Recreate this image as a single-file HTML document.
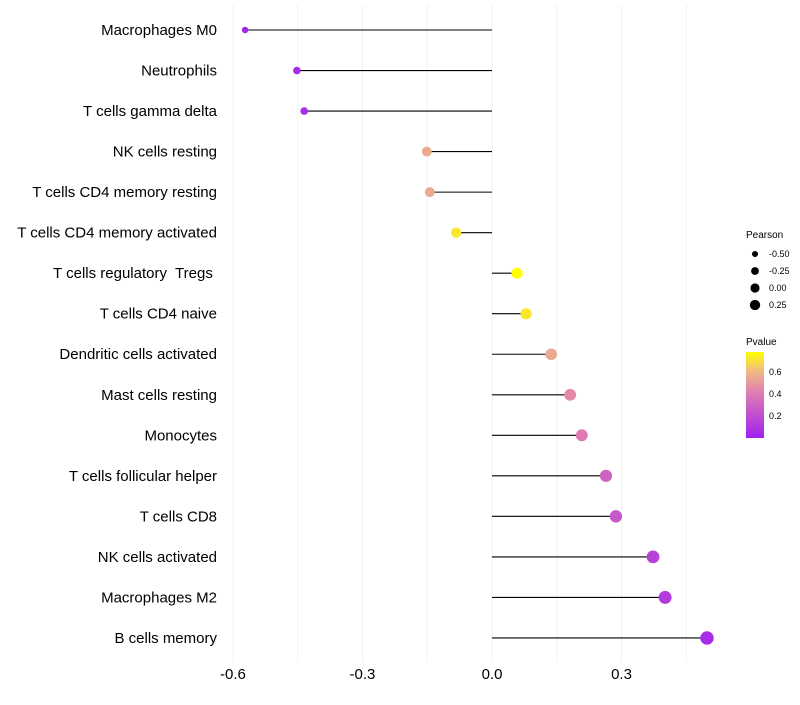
<!DOCTYPE html>
<html><head><meta charset="utf-8"><style>
body{margin:0;background:#fff;font-family:"Liberation Sans",sans-serif}
text{white-space:pre}
</style></head><body>
<svg id="c" width="800" height="700" xmlns="http://www.w3.org/2000/svg">
<defs><linearGradient id="pg" x1="0" y1="1" x2="0" y2="0">
<stop offset="0" stop-color="#a020f0"/><stop offset="0.5" stop-color="#dc78b4"/><stop offset="0.77" stop-color="#f0b886"/><stop offset="1" stop-color="#ffff00"/></linearGradient></defs>
<g id="grid"></g><g id="marks"></g><g id="labels"></g>
<g font-size="9" fill="#000">
<text x="746" y="238" font-size="10">Pearson</text>
<g id="sizeleg"></g>
<text x="746" y="345" font-size="10">Pvalue</text>
<rect x="746" y="352" width="18" height="86" fill="url(#pg)"/>
<text x="769" y="375">0.6</text><text x="769" y="397">0.4</text><text x="769" y="419">0.2</text>
</g>
</svg>
<script>
const categories=["Macrophages M0","Neutrophils","T cells gamma delta","NK cells resting","T cells CD4 memory resting","T cells CD4 memory activated","T cells regulatory  Tregs ","T cells CD4 naive","Dendritic cells activated","Mast cells resting","Monocytes","T cells follicular helper","T cells CD8","NK cells activated","Macrophages M2","B cells memory"];
const pearson=[-0.572,-0.452,-0.435,-0.151,-0.144,-0.083,0.058,0.079,0.137,0.181,0.208,0.264,0.287,0.373,0.401,0.498];
const pvalue=[0.02,0.05,0.06,0.55,0.55,0.72,0.78,0.72,0.55,0.45,0.4,0.3,0.25,0.15,0.12,0.05];
const xticks=[-0.6,-0.3,0.0,0.3];
const tickLabels=["-0.6","-0.3","0.0","0.3"];
const legVals=[-0.5,-0.25,0,0.25];
const legLabels=["-0.50","-0.25","0.00","0.25"];
const NS="http://www.w3.org/2000/svg";
const X=v=>492+v*431.7, Y=i=>30+i*40.53, R=v=>Math.sqrt(Math.max(2.5,25+30*v))+0.4;
function col(p){const t=Math.max(0,Math.min(1,p/0.78));
const st=[[0,[160,32,240]],[0.5,[220,120,180]],[0.77,[240,184,134]],[1,[255,255,0]]];
for(let k=0;k<st.length-1;k++){const[a,ca]=st[k],[b,cb]=st[k+1];if(t<=b){const f=(t-a)/(b-a);return`rgb(${ca.map((c,j)=>Math.round(c+(cb[j]-c)*f)).join(',')})`;}}return'rgb(255,255,0)';}
function el(tag,at,parent,txt){const e=document.createElementNS(NS,tag);for(const k in at)e.setAttribute(k,at[k]);if(txt!==undefined)e.textContent=txt;document.getElementById(parent).appendChild(e);return e;}
for(let v=-0.6;v<=0.46;v+=0.15){const l=el('line',{x1:X(v),x2:X(v),y1:5,y2:662,stroke:'#f0f0f0','stroke-width':1},'grid');

}
xticks.forEach((v,i)=>{const t=el('text',{x:X(v),y:679,'text-anchor':'middle','font-size':15,fill:'#000'},'labels',tickLabels[i]);

});
categories.forEach((c,i)=>{
const t=el('text',{x:217,y:Y(i)+5,'text-anchor':'end','font-size':15,fill:'#000'},'labels',c);


const l=el('line',{x1:X(0),x2:X(pearson[i]),y1:Y(i),y2:Y(i),stroke:'#000','stroke-width':1.1},'marks');


const d=el('circle',{cx:X(pearson[i]),cy:Y(i),r:R(pearson[i]),fill:col(pvalue[i])},'marks');


});
legVals.forEach((v,i)=>{const y=254+i*17;
const c=el('circle',{cx:755,cy:y,r:R(v)*0.85,fill:'#000'},'sizeleg');


el('text',{x:769,y:y+3,'font-size':9},'sizeleg',legLabels[i]);});
</script>
</body></html>
